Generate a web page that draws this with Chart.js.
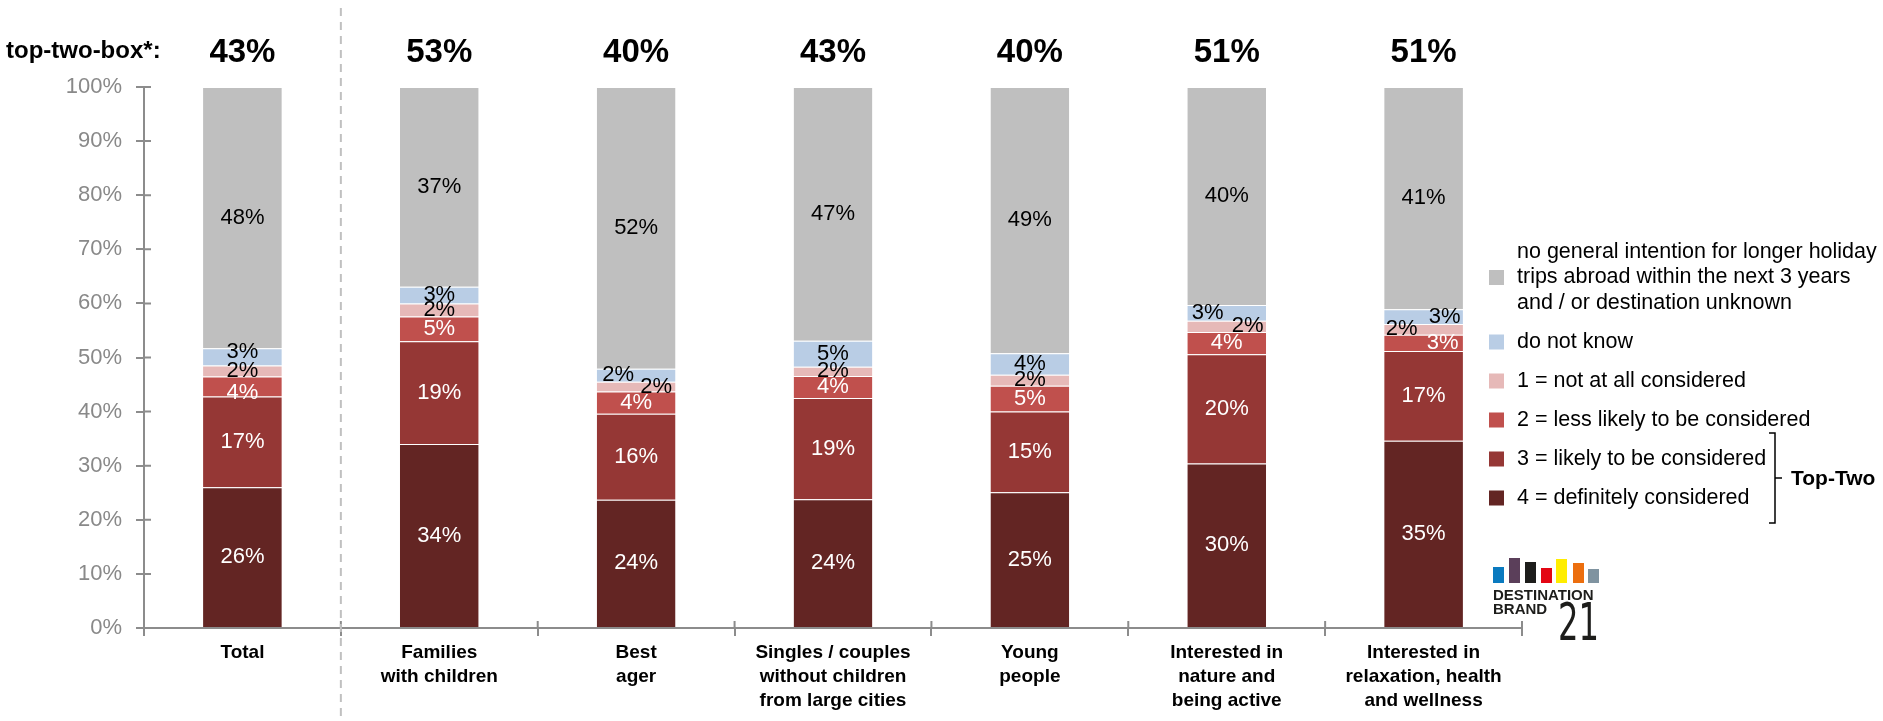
<!DOCTYPE html>
<html>
<head>
<meta charset="utf-8">
<script src="https://cdn.jsdelivr.net/npm/chart.js@4.4.1/dist/chart.umd.min.js"></script>
<style>
  html, body { margin: 0; padding: 0; background: #fff; }
</style>
</head>
<body>
<canvas id="chart" width="1883" height="721"></canvas>
<script>
// categories (x axis, multi-line)
const categories = [
  ['Total'],
  ['Families', 'with children'],
  ['Best', 'ager'],
  ['Singles / couples', 'without children', 'from large cities'],
  ['Young', 'people'],
  ['Interested in', 'nature and', 'being active'],
  ['Interested in', 'relaxation, health', 'and wellness']
];
const topTwoBox = [43, 53, 40, 43, 40, 51, 51];

// shares in %, bottom to top of each bar
const definitely = [26.0, 34.0, 23.7, 23.8, 25.1, 30.4, 34.6];
const likely = [16.8, 19.0, 15.9, 18.7, 14.9, 20.2, 16.6];
const lessLikely = [3.7, 4.6, 4.1, 4.1, 4.8, 4.1, 3.0];
const notAtAll = [2.0, 2.4, 1.8, 1.7, 2.0, 2.1, 2.0];
const doNotKnow = [3.2, 3.1, 2.4, 4.8, 4.0, 2.9, 2.7];
const noIntention = [48.3, 36.9, 52.1, 46.9, 49.2, 40.3, 41.1];

const seriesNames = [
  ['4 = definitely considered'],
  ['3 = likely to be considered'],
  ['2 = less likely to be considered'],
  ['1 = not at all considered'],
  ['do not know'],
  ['no general intention for longer holiday', 'trips abroad within the next 3 years', 'and / or destination unknown']
];
const yTicks = [0, 10, 20, 30, 40, 50, 60, 70, 80, 90, 100];

const colors = ['#632523', '#953735', '#c0504d', '#e6b9b8', '#b9cde5', '#bfbfbf'];
const FONT = '"Liberation Sans", Arial, sans-serif';

// label nudges where small segments collide: [category][dataset] = [dx, dy]
const labelShift = {
  0: { 2: [0, 6], 4: [0, -5] },
  2: { 3: [20, 0], 4: [-18, 0] },
  5: { 3: [21, 0], 4: [-19, 0] },
  6: { 2: [19, 0], 3: [-22, 0], 4: [21, 0] }
};

const overlay = {
  id: 'overlay',
  afterDatasetsDraw(chart) {
    const ctx = chart.ctx;
    ctx.save();
    ctx.font = '22px ' + FONT;
    ctx.textAlign = 'center';
    ctx.textBaseline = 'middle';
    chart.data.datasets.forEach((ds, di) => {
      chart.getDatasetMeta(di).data.forEach((bar, i) => {
        const sh = (labelShift[i] && labelShift[i][di]) || [0, 0];
        ctx.fillStyle = di < 3 ? '#fff' : '#000';
        ctx.fillText(Math.round(ds.data[i]) + '%', bar.x + sh[0], (bar.y + bar.base) / 2 + sh[1]);
      });
    });
    ctx.restore();
  },
  afterDraw(chart) {
    const ctx = chart.ctx;
    const xs = chart.scales.x, ys = chart.scales.y;
    const area = chart.chartArea;
    ctx.save();

    // small inner parts of the axis ticks
    ctx.strokeStyle = '#8c8c8c';
    ctx.lineWidth = 2;
    ctx.beginPath();
    yTicks.forEach(v => {
      const y = ys.getPixelForValue(v);
      ctx.moveTo(area.left, y);
      ctx.lineTo(area.left + 7, y);
    });
    const step = (area.right - area.left) / categories.length;
    for (let i = 1; i <= categories.length; i++) {
      const x = area.left + i * step;
      ctx.moveTo(x, area.bottom);
      ctx.lineTo(x, area.bottom - 7);
    }
    ctx.stroke();

    // dashed separator after "Total"
    const sepX = (xs.getPixelForValue(0) + xs.getPixelForValue(1)) / 2;
    ctx.strokeStyle = '#c0c0c0';
    ctx.setLineDash([8, 6]);
    ctx.beginPath();
    ctx.moveTo(sepX, 8);
    ctx.lineTo(sepX, 721);
    ctx.stroke();
    ctx.setLineDash([]);

    // top-two-box row
    ctx.fillStyle = '#000';
    ctx.textBaseline = 'alphabetic';
    ctx.textAlign = 'left';
    ctx.font = 'bold 24px ' + FONT;
    ctx.fillText('top-two-box*:', 6, 58);
    ctx.textAlign = 'center';
    ctx.font = 'bold 33px ' + FONT;
    topTwoBox.forEach((v, i) => {
      ctx.fillText(v + '%', xs.getPixelForValue(i), 62);
    });

    // legend (top series first)
    const lx = 1489, tx = 1517, lineH = 25.5, gap = 39;
    let y = 252;
    ctx.textAlign = 'left';
    ctx.textBaseline = 'middle';
    ctx.font = '21.5px ' + FONT;
    for (let di = seriesNames.length - 1; di >= 0; di--) {
      const lines = seriesNames[di];
      const mid = y + (lines.length - 1) * lineH / 2;
      ctx.fillStyle = colors[di];
      ctx.fillRect(lx, mid - 7.5, 15, 15);
      ctx.fillStyle = '#000';
      lines.forEach((t, k) => ctx.fillText(t, tx, y + k * lineH));
      y += (lines.length - 1) * lineH + gap;
    }

    // Top-Two bracket
    ctx.strokeStyle = '#000';
    ctx.lineWidth = 1.5;
    ctx.beginPath();
    ctx.moveTo(1769, 433); ctx.lineTo(1775, 433); ctx.lineTo(1775, 523); ctx.lineTo(1769, 523);
    ctx.moveTo(1775, 478); ctx.lineTo(1782, 478);
    ctx.stroke();
    ctx.font = 'bold 21px ' + FONT;
    ctx.fillText('Top-Two', 1791, 479);

    // logo
    const logoBars = [
      ['#0a7abf', 1493, 567], ['#5b3f5a', 1509, 558], ['#1d1d1b', 1525, 562],
      ['#e30613', 1541, 568], ['#ffed00', 1556, 559], ['#ec6e0e', 1573, 563], ['#7f93a0', 1588, 569]
    ];
    logoBars.forEach(([c, x, top]) => {
      ctx.fillStyle = c;
      ctx.fillRect(x, top, 11, 583 - top);
    });
    ctx.fillStyle = '#1d1d1b';
    ctx.textBaseline = 'alphabetic';
    ctx.font = 'bold 15px ' + FONT;
    ctx.fillText('DESTINATION', 1493, 600);
    ctx.fillText('BRAND', 1493, 614);
    ctx.save();
    ctx.translate(1558, 640);
    ctx.scale(0.62, 1);
    ctx.font = '52px "DejaVu Sans", sans-serif';
    ctx.fillText('21', 0, 0);
    ctx.restore();

    ctx.restore();
  }
};

const datasets = [definitely, likely, lessLikely, notAtAll, doNotKnow, noIntention].map((d, i) => ({
  label: seriesNames[i].join(' '),
  data: d,
  backgroundColor: colors[i],
  borderColor: 'rgba(255,255,255,0.3)',
  borderWidth: { top: 1, bottom: 0, left: 0, right: 0 },
  borderSkipped: false,
  categoryPercentage: 1,
  barPercentage: 0.4
}));

new Chart(document.getElementById('chart'), {
  type: 'bar',
  data: { labels: categories, datasets: datasets },
  options: {
    responsive: false,
    animation: false,
    layout: { padding: { top: 87, right: 361, left: 0, bottom: 0 } },
    plugins: { legend: { display: false }, tooltip: { enabled: false } },
    scales: {
      x: {
        stacked: true,
        grid: { drawOnChartArea: false, drawTicks: true, tickLength: 8, color: '#8c8c8c', lineWidth: 2, offset: true },
        border: { color: '#8c8c8c', width: 2 },
        ticks: {
          color: '#000',
          font: { family: FONT, size: 19, weight: 'bold', lineHeight: 1.26 },
          padding: 5,
          maxRotation: 0,
          autoSkip: false
        },
        afterFit(s) { s.height = 93; }
      },
      y: {
        stacked: true,
        min: 0,
        max: 100,
        afterBuildTicks(s) { s.ticks = yTicks.map(v => ({ value: v })); },
        ticks: {
          callback: v => v + '%',
          color: '#898989',
          font: { family: FONT, size: 22 },
          padding: 14
        },
        grid: { drawOnChartArea: false, tickLength: 8, color: '#8c8c8c', lineWidth: 2 },
        border: { color: '#8c8c8c', width: 2 },
        afterFit(s) { s.width = 144; }
      }
    }
  },
  plugins: [overlay]
});
</script>
</body>
</html>
